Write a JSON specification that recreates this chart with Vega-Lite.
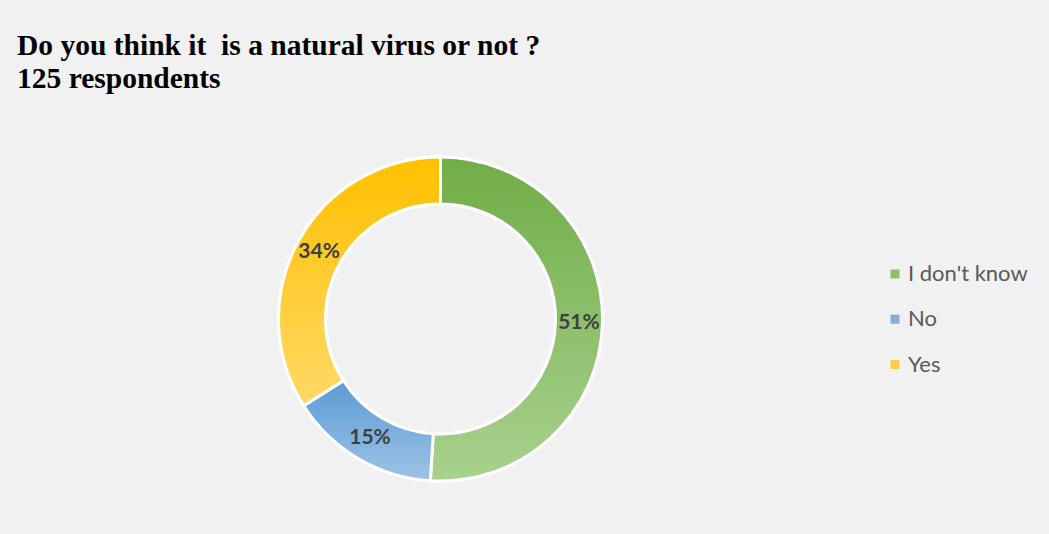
{
  "$schema": "https://vega.github.io/schema/vega-lite/v6.json",
  "width": 881,
  "height": 430,
  "autosize": {"type": "none"},
  "padding": {"left": 0, "top": 104, "right": 168, "bottom": 0},
  "background": "#f1f1f1",
  "config": {"view": {"stroke": null}},
  "title": {
    "text": ["Do you think it \u00a0is a natural virus or not ?", "125 respondents"],
    "font": "Liberation Serif",
    "fontSize": 29.5,
    "fontWeight": "bold",
    "color": "#000000",
    "anchor": "start",
    "frame": "group",
    "dx": 17,
    "lineHeight": 32.5,
    "offset": 10
  },
  "data": {
    "values": [
      {"answer": "I don't know", "pct": 51, "idx": 1},
      {"answer": "No", "pct": 15, "idx": 2},
      {"answer": "Yes", "pct": 34, "idx": 3}
    ]
  },
  "layer": [
    {
      "mark": {"type": "arc", "outerRadius": 162, "innerRadius": 115, "stroke": "#ffffff", "strokeWidth": 3},
      "encoding": {
        "theta": {"field": "pct", "type": "quantitative", "stack": true},
        "order": {"field": "idx", "type": "quantitative"},
        "color": {
          "field": "answer",
          "type": "nominal",
          "scale": {"domain": ["I don't know", "No", "Yes"], "range": ["#8cc06b", "#7cb0de", "#ffcd40"]},
          "legend": {
            "title": null,
            "orient": "none",
            "legendX": 884,
            "legendY": 159,
            "padding": 0,
            "symbolType": "square",
            "symbolSize": 81,
            "symbolStrokeWidth": 0,
            "labelFont": "Lato",
            "labelFontSize": 22,
            "labelColor": "#595959",
            "labelOffset": 2,
            "rowPadding": 23.25,
            "labelLimit": 300
          }
        }
      }
    },
    {
      "transform": [
        {"stack": "pct", "sort": [{"field": "idx", "order": "ascending"}], "as": ["t0", "t1"], "groupby": []},
        {"filter": "datum.answer === \"I don't know\""}
      ],
      "mark": {"type": "arc", "outerRadius": 162, "innerRadius": 115, "stroke": "#ffffff", "strokeWidth": 3,
        "color": {"gradient": "linear", "x1": 0, "y1": 0, "x2": 0, "y2": 1, "stops": [{"offset": 0, "color": "#70ad47"}, {"offset": 1, "color": "#a9d18e"}]}},
      "encoding": {
        "theta": {"field": "t0", "type": "quantitative"},
        "theta2": {"field": "t1"}
      }
    },
    {
      "transform": [
        {"stack": "pct", "sort": [{"field": "idx", "order": "ascending"}], "as": ["t0", "t1"], "groupby": []},
        {"filter": "datum.answer === 'No'"}
      ],
      "mark": {"type": "arc", "outerRadius": 162, "innerRadius": 115, "stroke": "#ffffff", "strokeWidth": 3,
        "color": {"gradient": "linear", "x1": 0, "y1": 0, "x2": 0, "y2": 1, "stops": [{"offset": 0, "color": "#5b9bd5"}, {"offset": 1, "color": "#9dc3e6"}]}},
      "encoding": {
        "theta": {"field": "t0", "type": "quantitative"},
        "theta2": {"field": "t1"}
      }
    },
    {
      "transform": [
        {"stack": "pct", "sort": [{"field": "idx", "order": "ascending"}], "as": ["t0", "t1"], "groupby": []},
        {"filter": "datum.answer === 'Yes'"}
      ],
      "mark": {"type": "arc", "outerRadius": 162, "innerRadius": 115, "stroke": "#ffffff", "strokeWidth": 3,
        "color": {"gradient": "linear", "x1": 0, "y1": 0, "x2": 0, "y2": 1, "stops": [{"offset": 0, "color": "#ffc000"}, {"offset": 1, "color": "#ffd966"}]}},
      "encoding": {
        "theta": {"field": "t0", "type": "quantitative"},
        "theta2": {"field": "t1"}
      }
    },
    {
      "transform": [{"calculate": "datum.pct + '%'", "as": "label"}],
      "mark": {"type": "text", "radius": 138.5, "font": "Lato", "fontWeight": "bold", "fontSize": 21, "color": "#404040"},
      "encoding": {
        "theta": {"field": "pct", "type": "quantitative", "stack": true},
        "order": {"field": "idx", "type": "quantitative"},
        "text": {"field": "label"}
      }
    }
  ]
}
